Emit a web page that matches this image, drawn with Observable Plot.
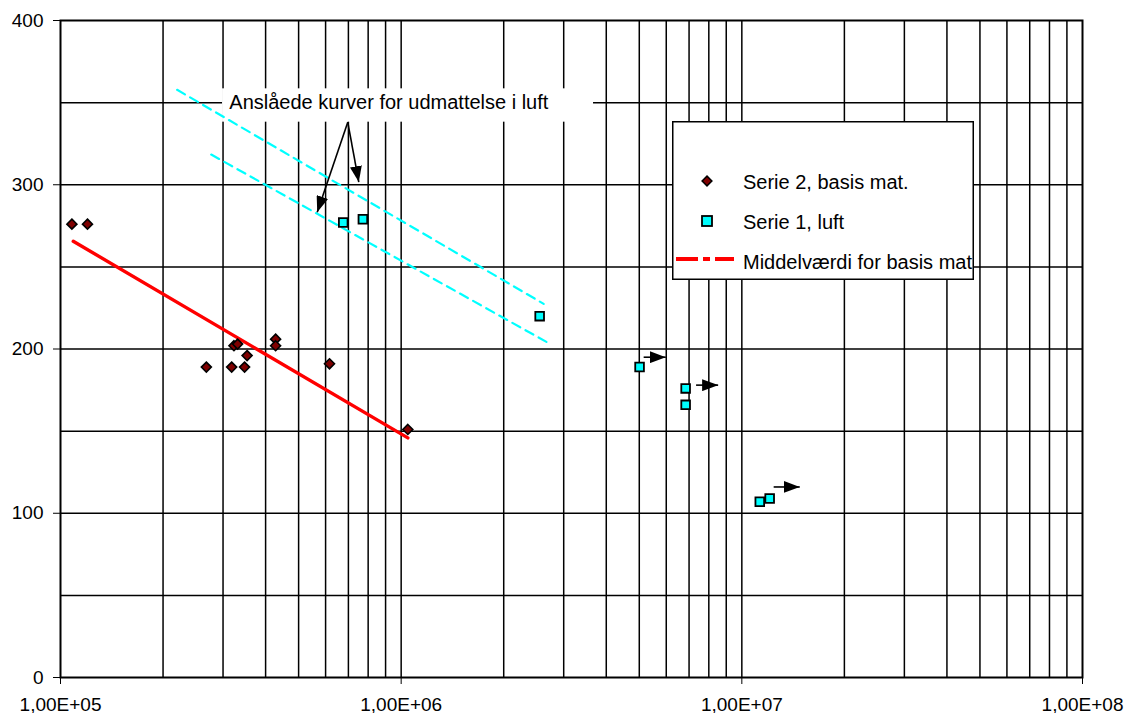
<!DOCTYPE html>
<html>
<head>
<meta charset="utf-8">
<script src="https://cdn.jsdelivr.net/npm/d3@7"></script>
<script src="https://cdn.jsdelivr.net/npm/@observablehq/plot@0.6"></script>
<style>
  body { margin: 0; background: #fff; }
  #wrap { position: relative; width: 1126px; height: 713px; font-family: "Liberation Sans", Arial, sans-serif; }
  #legend { position: absolute; left: 672px; top: 121px; }
</style>
</head>
<body>
<div id="wrap"></div>
<script>
// ---- Data ----
// Serie 2, basis mat. (diamonds)
const serie2X = [1.08e5, 1.20e5, 2.68e5, 3.18e5, 3.23e5, 3.31e5, 3.47e5, 3.53e5, 4.28e5, 4.28e5, 6.16e5, 1.046e6];
const serie2Y = [276, 276, 189, 189, 202, 203, 189, 196, 206, 202, 191, 151];

// Serie 1, luft (squares)
const serie1X = [6.76e5, 7.72e5, 2.55e6, 5.01e6, 6.84e6, 6.84e6, 1.129e7, 1.207e7];
const serie1Y = [277, 279, 220, 189, 176, 166, 107, 109];

// Run-out arrows (no failure)
const runoutX1 = [5.15e6, 7.34e6, 1.24e7];
const runoutX2 = [5.98e6, 8.52e6, 1.479e7];
const runoutY  = [195, 178, 116];

// Middelværdi for basis mat (red line)
const meanX = [1.09e5, 1.046e6];
const meanY = [265.6, 145.9];

// Anslåede kurver for udmattelse i luft (cyan dashed)
const airUpperX = [2.20e5, 2.62e6];
const airUpperY = [357.8, 227.5];
const airLowerX = [2.77e5, 2.73e6];
const airLowerY = [318.4, 203.2];

// Annotation
const annoText = "Anslåede kurver for udmattelse i luft";
const annoBoxX = [2.99e5, 3.67e6];
const annoBoxY = [338.1, 358.4];
const annoTextPos = [3.13e5, 350.1];
const annoArrowFrom = [6.97e5, 338.1];
const annoArrowToX = [5.67e5, 7.51e5];
const annoArrowToY = [283.3, 301.6];

// Axes
const xTicks = [1e5, 1e6, 1e7, 1e8];
const xTickLabels = ["1,00E+05", "1,00E+06", "1,00E+07", "1,00E+08"];
const yTicks = [0, 100, 200, 300, 400];
const yGrid = [50, 100, 150, 200, 250, 300, 350];
const xGridMultipliers = [2, 3, 4, 5, 6, 7, 8, 9, 10];
const xGridDecades = [1e5, 1e6, 1e7];

// Legend
const legendLabels = ["Serie 2, basis mat.", "Serie 1, luft", "Middelværdi for basis mat"];

// ---- Build tables ----
const serie2 = serie2X.map((x, i) => ({x, y: serie2Y[i]}));
const serie1 = serie1X.map((x, i) => ({x, y: serie1Y[i]}));
const runouts = runoutX1.map((x1, i) => ({x1, x2: runoutX2[i], y: runoutY[i]}));
const meanLine = meanX.map((x, i) => ({x, y: meanY[i]}));
const airUpper = airUpperX.map((x, i) => ({x, y: airUpperY[i]}));
const airLower = airLowerX.map((x, i) => ({x, y: airLowerY[i]}));
const annoBox = [{x1: annoBoxX[0], x2: annoBoxX[1], y1: annoBoxY[0], y2: annoBoxY[1]}];
const annoArrows = annoArrowToX.map((x2, i) => ({x1: annoArrowFrom[0], y1: annoArrowFrom[1], x2, y2: annoArrowToY[i]}));
const xGrid = xGridDecades.flatMap(d => xGridMultipliers.map(m => m * d)).filter(v => v < 1e8);

const lineStyle = {stroke: "#00FFFF", strokeWidth: 2.2, strokeDasharray: "9,6"};

const plot = Plot.plot({
  width: 1126,
  height: 713,
  marginLeft: 60,
  marginRight: 44,
  marginTop: 20,
  marginBottom: 36,
  style: {fontFamily: "'Liberation Sans', Arial, sans-serif", fontSize: "19px", background: "white", color: "black", overflow: "visible"},
  x: {type: "log", domain: [1e5, 1e8], ticks: xTicks, tickFormat: d => xTickLabels[xTicks.findIndex(t => Math.abs(t - d) / t < 1e-6)], tickSize: 7, tickPadding: 13, label: null},
  y: {domain: [0, 400], ticks: yTicks, tickSize: 7, tickPadding: 10, label: null},
  marks: [
    Plot.ruleY(yGrid, {stroke: "black", strokeWidth: 1.5}),
    Plot.ruleX(xGrid, {stroke: "black", strokeWidth: 1.5}),
    Plot.rect(annoBox, {x1: "x1", x2: "x2", y1: "y1", y2: "y2", fill: "white"}),
    Plot.line(airUpper, {x: "x", y: "y", ...lineStyle}),
    Plot.line(airLower, {x: "x", y: "y", ...lineStyle}),
    Plot.line(meanLine, {x: "x", y: "y", stroke: "#FF0000", strokeWidth: 3.4}),
    Plot.dot(serie2, {x: "x", y: "y", symbol: "diamond2", r: 4.5, fill: "#7F0000", stroke: "black", strokeWidth: 1.6}),
    Plot.dot(serie1, {x: "x", y: "y", symbol: "square", r: 4.9, fill: "#00FFFF", stroke: "black", strokeWidth: 1.8}),
    Plot.link(runouts, {x1: "x1", x2: "x2", y1: "y", y2: "y", stroke: "black", strokeWidth: 1.6, markerEnd: "arrow"}),
    Plot.link(annoArrows, {x1: "x1", y1: "y1", x2: "x2", y2: "y2", stroke: "black", strokeWidth: 1.6, markerEnd: "arrow"}),
    Plot.text([annoText], {x: () => annoTextPos[0], y: () => annoTextPos[1], text: d => d, textAnchor: "start", fill: "black", fontSize: 20}),
    Plot.frame({stroke: "black", strokeWidth: 2})
  ]
});

// Filled triangular arrowheads
plot.querySelectorAll("marker").forEach(m => {
  m.setAttribute("markerUnits", "userSpaceOnUse");
  m.setAttribute("viewBox", "-16 -6 16 12");
  m.setAttribute("markerWidth", "16");
  m.setAttribute("markerHeight", "12");
  m.setAttribute("refX", "0");
  m.setAttribute("refY", "0");
  m.setAttribute("fill", "black");
  m.setAttribute("stroke", "none");
  while (m.firstChild) m.removeChild(m.firstChild);
  const p = document.createElementNS("http://www.w3.org/2000/svg", "path");
  p.setAttribute("d", "M-16,-6L0,0L-16,6Z");
  m.appendChild(p);
});

const wrap = document.getElementById("wrap");
wrap.appendChild(plot);

// Legend (inside the plot area, white box)
const lw = 302, lh = 159;
const legend = d3.select(wrap).append("svg")
  .attr("id", "legend")
  .attr("width", lw).attr("height", lh)
  .style("font-family", "'Liberation Sans', Arial, sans-serif")
  .style("font-size", "20px");
legend.append("rect").attr("x", 0.75).attr("y", 0.75).attr("width", lw - 1.5).attr("height", lh - 1.5)
  .attr("fill", "white").attr("stroke", "black").attr("stroke-width", 1.5);
legend.append("path").attr("d", d3.symbol(d3.symbolDiamond2, Math.PI * 4.4 * 4.4)())
  .attr("transform", "translate(35,60)").attr("fill", "#7F0000").attr("stroke", "black").attr("stroke-width", 1.5);
legend.append("rect").attr("x", 30).attr("y", 95).attr("width", 10).attr("height", 10)
  .attr("fill", "#00FFFF").attr("stroke", "black").attr("stroke-width", 1.8);
legend.append("line").attr("x1", 4).attr("x2", 62).attr("y1", 138).attr("y2", 138)
  .attr("stroke", "#FF0000").attr("stroke-width", 4).attr("stroke-dasharray", "22,5,7,5");
const ly = [68, 108, 148];
legendLabels.forEach((t, i) => {
  legend.append("text").attr("x", 71).attr("y", ly[i]).attr("fill", "black").text(t);
});
</script>
</body>
</html>
